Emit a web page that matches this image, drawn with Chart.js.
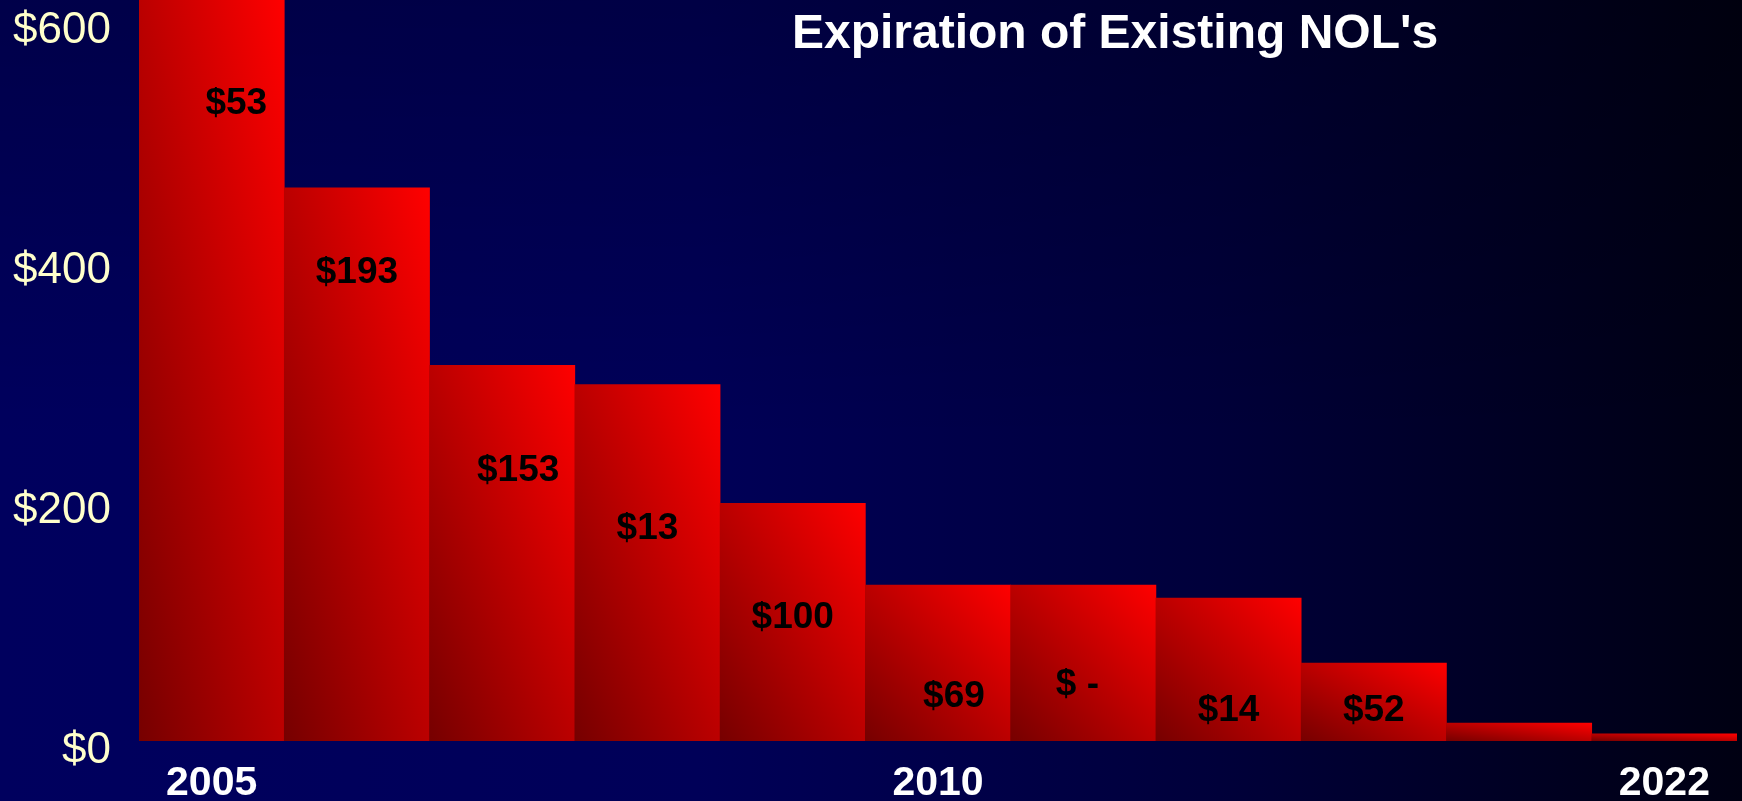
<!DOCTYPE html>
<html>
<head>
<meta charset="utf-8">
<script src="https://cdn.jsdelivr.net/npm/chart.js@4/dist/chart.umd.min.js"></script>
<style>
  html, body { margin: 0; padding: 0; }
  body {
    width: 1742px; height: 801px; overflow: hidden;
    background:
      linear-gradient(to bottom, rgba(0,0,0,0.22), rgba(0,0,0,0) 55%),
      linear-gradient(to right, #00005e 0%, #000058 40%, #00003a 70%, #000012 100%);
  }
  #wrap { position: relative; width: 1742px; height: 801px; }
</style>
</head>
<body>
<div id="wrap"><canvas id="chart"></canvas></div>
<script>
// bar heights ($ millions)
let years = ['2005', '', '', '', '', '2010', '', '', '', '', '2022'];
let remaining = [650, 461, 313, 297, 198, 130, 130, 119, 65, 15, 6];
// text printed inside the bars and the value it sits at
let barText = ['$53', '$193', '$153', '$13', '$100', '$69', '$ -', '$14', '$52', '', ''];
let barTextAt = [531, 390, 225, 177, 103, 37, 47, 25, 25, 0, 0];
let barTextShift = [0.17, 0, 0.11, 0, 0, 0.11, -0.04, 0, 0, 0, 0]; // in bar widths
let yTicks = [0, 200, 400, 600];
let chartTitle = "Expiration of Existing NOL's";

function barFill(context) {
    let chart = context.chart;
    let area = chart.chartArea;
    if (!area) return '#c00000';
    let xs = chart.scales.x, ys = chart.scales.y;
    let i = context.dataIndex;
    let half = (xs.getPixelForValue(1) - xs.getPixelForValue(0)) / 2;
    let x0 = xs.getPixelForValue(i) - half;
    let y1 = ys.getPixelForValue(0);
    let top = Math.max(ys.getPixelForValue(context.raw), area.top);
    let w = half * 2, h = Math.max(y1 - top, 1);
    //gradient whose isolines follow the top-left/bottom-right diagonal of the bar
    let f = 2 * w * h / (w * w + h * h);
    let g = chart.ctx.createLinearGradient(x0, y1, x0 + h * f, y1 - w * f);
    g.addColorStop(0, '#760000');
    g.addColorStop(1, '#ff0000');
    return g;
}

let textPlugin = {
    id: 'textPlugin',
    afterDatasetsDraw: function (chart) {
        let c = chart.ctx;
        let xs = chart.scales.x, ys = chart.scales.y;
        let step = xs.getPixelForValue(1) - xs.getPixelForValue(0);
        c.save();
        c.fillStyle = '#000000';
        c.font = 'bold 37px "Liberation Sans", Arial, sans-serif';
        c.textAlign = 'center';
        c.textBaseline = 'middle';
        barText.forEach(function (t, i) {
            if (!t) return;
            let x = xs.getPixelForValue(i) + barTextShift[i] * step;
            c.fillText(t, x, ys.getPixelForValue(barTextAt[i]));
        });
        c.fillStyle = '#ffffff';
        c.font = 'bold 48px "Liberation Sans", Arial, sans-serif';
        c.fillText(chartTitle, 1115, 35);
        c.restore();
    }
};

new Chart(document.getElementById('chart'), {
    type: 'bar',
    data: {
        labels: years,
        datasets: [{
            data: remaining,
            backgroundColor: barFill,
            borderWidth: 0,
            barPercentage: 1,
            categoryPercentage: 1
        }]
    },
    options: {
        responsive: true,
        maintainAspectRatio: false,
        animation: false,
        layout: { padding: { top: 0, right: 5, bottom: 0, left: 0 } },
        plugins: {
            legend: { display: false },
            tooltip: { enabled: false },
            title: { display: false }
        },
        scales: {
            x: {
                grid: { display: false },
                border: { display: false },
                afterFit: function (s) {
                    s.height = 60;
                    s.paddingLeft = 0;
                    s.paddingRight = 0;
                },
                ticks: {
                    autoSkip: false,
                    maxRotation: 0,
                    padding: 10,
                    color: '#ffffff',
                    font: { family: '"Liberation Sans", Arial, sans-serif', size: 41, weight: 'bold' }
                }
            },
            y: {
                min: 0,
                max: 617.5,
                grid: { display: false },
                border: { display: false },
                afterFit: function (s) {
                    s.width = 139;
                    s.paddingTop = 0;
                    s.paddingBottom = 0;
                },
                afterBuildTicks: function (s) {
                    s.ticks = yTicks.map(function (v) { return { value: v }; });
                },
                ticks: {
                    padding: 20,
                    labelOffset: 10,
                    color: '#ffffcc',
                    font: { family: '"Liberation Sans", Arial, sans-serif', size: 44 },
                    callback: function (v) { return '$' + v; }
                }
            }
        }
    },
    plugins: [textPlugin]
});
</script>
</body>
</html>
